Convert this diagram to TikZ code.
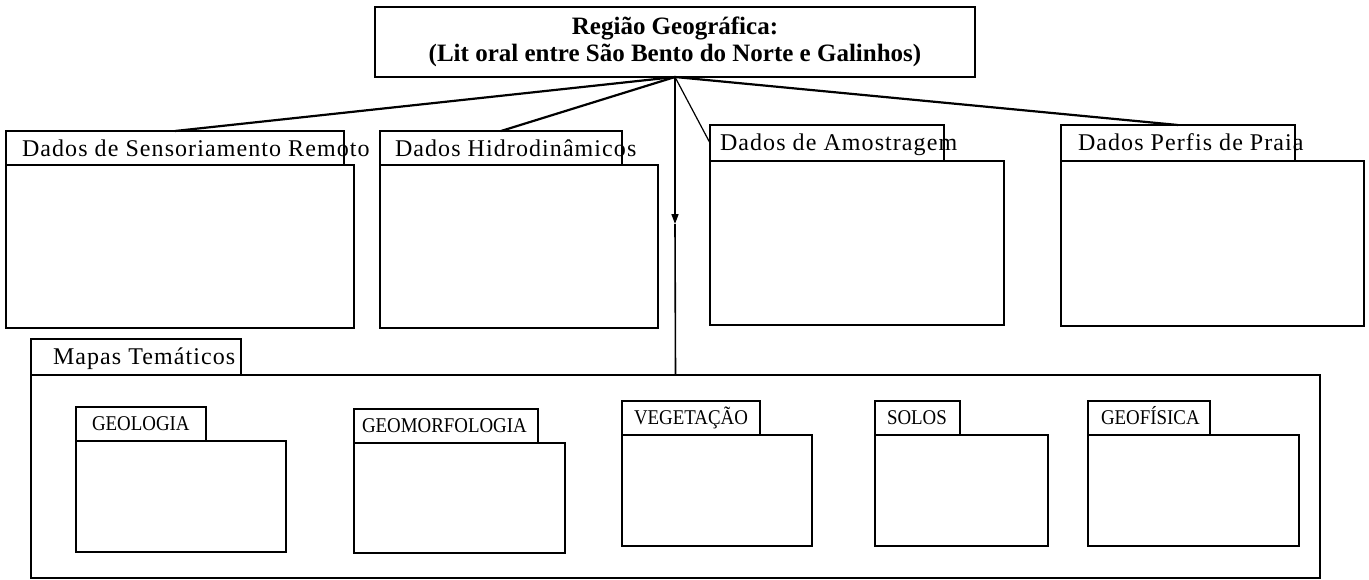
\documentclass[tikz,border=0pt]{standalone}
\usepackage{fontspec}
\setmainfont{Liberation Serif}
\newfontfamily\spacedfont[LetterSpace=4.5]{Liberation Serif}
\newfontfamily\narrowfont[FakeStretch=0.9]{Liberation Serif}
\usetikzlibrary{positioning,arrows.meta}

\begin{document}
\begin{tikzpicture}[x=1pt, y=-1pt, line width=1.6pt,
  every node/.style={inner sep=0pt, outer sep=0pt},
  tabbox/.style={draw, rectangle, anchor=north west, minimum height=#1},
  tabbox/.default=34pt,
  bodybox/.style={draw, rectangle, anchor=north west},
  biglabel/.style={anchor=base west, font=\spacedfont\fontsize{24}{26}\selectfont},
  smalllabel/.style={anchor=base west, font=\narrowfont\fontsize{21}{23}\selectfont},
  link/.style={line width=2.2pt}]
  \useasboundingbox (0,0) rectangle (1369,579);

  % top box
  \node[draw, anchor=north west, minimum width=600pt, minimum height=70pt,
        align=center, font=\bfseries\fontsize{25}{27}\selectfont] (regiao) at (375,7)
        {Região Geográfica:\\ (Lit oral entre São Bento do Norte e Galinhos)};

  % upper packages
  \node[tabbox, minimum width=338pt] (sensTab) at (6,131) {};
  \node[bodybox, minimum width=348pt, minimum height=163pt] (sensBody) at (6,165) {};
  \node[biglabel] (sensLbl) at ([shift={(16,-9)}]sensTab.south west) {Dados de Sensoriamento Remoto};

  \node[tabbox, minimum width=242pt] (hidroTab) at (380,131) {};
  \node[bodybox, minimum width=278pt, minimum height=163pt] (hidroBody) at (380,165) {};
  \node[biglabel] (hidroLbl) at ([shift={(15,-9)}]hidroTab.south west) {Dados Hidrodinâmicos};

  \node[tabbox=36pt, minimum width=234pt] (amostTab) at (710,125) {};
  \node[bodybox, minimum width=294pt, minimum height=164pt] (amostBody) at (710,161) {};
  \node[biglabel] (amostLbl) at ([shift={(10,-11)}]amostTab.south west) {Dados de Amostragem};

  \node[tabbox=36pt, minimum width=234pt] (perfisTab) at (1061,125) {};
  \node[bodybox, minimum width=303pt, minimum height=165pt] (perfisBody) at (1061,161) {};
  \node[biglabel] (perfisLbl) at ([shift={(17,-11)}]perfisTab.south west) {Dados Perfis de Praia};

  % mapas tematicos
  \node[tabbox=36pt, minimum width=210pt] (mapasTab) at (31,339) {};
  \node[bodybox, minimum width=1289pt, minimum height=203pt] (mapasBody) at (31,375) {};
  \node[biglabel] (mapasLbl) at ([shift={(22,-11)}]mapasTab.south west) {Mapas Temáticos};

  \node[tabbox, minimum width=130pt] (geolTab) at (76,407) {};
  \node[bodybox, minimum width=210pt, minimum height=111pt] (geolBody) at (76,441) {};
  \node[smalllabel] (geolLbl) at ([shift={(16,-11)}]geolTab.south west) {GEOLOGIA};

  \node[tabbox, minimum width=184pt] (geomTab) at (354,409) {};
  \node[bodybox, minimum width=211pt, minimum height=110pt] (geomBody) at (354,443) {};
  \node[smalllabel] (geomLbl) at ([shift={(8,-11)}]geomTab.south west) {GEOMORFOLOGIA};

  \node[tabbox, minimum width=138pt] (vegTab) at (622,401) {};
  \node[bodybox, minimum width=190pt, minimum height=111pt] (vegBody) at (622,435) {};
  \node[smalllabel] (vegLbl) at ([shift={(12,-11)}]vegTab.south west) {VEGETAÇÃO};

  \node[tabbox, minimum width=85pt] (solosTab) at (875,401) {};
  \node[bodybox, minimum width=173pt, minimum height=111pt] (solosBody) at (875,435) {};
  \node[smalllabel] (solosLbl) at ([shift={(12,-11)}]solosTab.south west) {SOLOS};

  \node[tabbox, minimum width=122pt] (geofTab) at (1088,401) {};
  \node[bodybox, minimum width=211pt, minimum height=111pt] (geofBody) at (1088,435) {};
  \node[smalllabel] (geofLbl) at ([shift={(13,-11)}]geofTab.south west) {GEOFÍSICA};

  % connectors
  \draw[link] (regiao.south) -- (sensTab.north);
  \draw[link] (regiao.south) -- (hidroTab.north);
  \draw[line width=1.2pt] (regiao.south) -- (amostTab.west);
  \draw[link] (regiao.south) -- (perfisTab.north);
  \coordinate (meio) at (675,224);
  \draw[-{Triangle[length=10pt,width=7pt]}] (regiao.south) -- (meio);
  \draw (meio) -- (mapasBody.north);
\end{tikzpicture}
\end{document}
